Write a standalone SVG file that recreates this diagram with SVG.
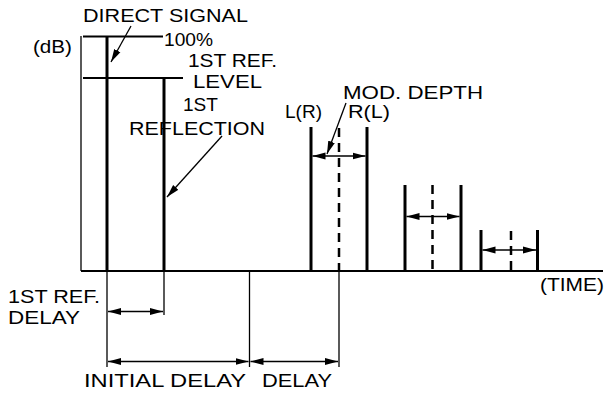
<svg xmlns="http://www.w3.org/2000/svg" width="606" height="393" viewBox="0 0 606 393">
<defs>
<style>
text{font-family:"Liberation Sans",Arial,Helvetica,sans-serif;font-size:19px;fill:#000}
.thick{stroke:#000;stroke-width:3;fill:none}
.med{stroke:#000;stroke-width:2;fill:none}
.thin{stroke:#000;stroke-width:1.3;fill:none}
.dash{stroke:#000;stroke-width:2.5;stroke-dasharray:9,6;fill:none}
.dim{stroke:#000;stroke-width:1.5;fill:none;marker-start:url(#ah);marker-end:url(#ah)}
.ptr{stroke:#000;stroke-width:1.3;fill:none;marker-end:url(#ah)}
</style>
<marker id="ah" markerUnits="userSpaceOnUse" markerWidth="14" markerHeight="8" refX="13" refY="4" orient="auto-start-reverse">
<path d="M0,0.5 L13,4 L0,7.5 z" fill="#000"/>
</marker>
</defs>
<rect width="606" height="393" fill="#fff"/>
<g id="axes">
<line class="thin" x1="81" y1="36" x2="81" y2="271"/>
<line class="med" x1="81" y1="271" x2="603" y2="271"/>
<line class="med" x1="83" y1="36.5" x2="163" y2="36.5"/>
<line class="med" x1="83" y1="78" x2="183" y2="78"/>
</g>
<g id="pulses">
<line class="thick" x1="107" y1="37" x2="107" y2="271"/>
<line class="thick" x1="164" y1="78" x2="164" y2="271"/>
<line class="thick" x1="311" y1="127" x2="311" y2="271"/>
<line class="thick" x1="367" y1="127" x2="367" y2="271"/>
<line class="dash" x1="339" y1="128" x2="339" y2="271"/>
<line class="thick" x1="405" y1="185" x2="405" y2="271"/>
<line class="thick" x1="461" y1="185" x2="461" y2="271"/>
<line class="dash" x1="432.5" y1="185" x2="432.5" y2="271"/>
<line class="thick" x1="481" y1="230" x2="481" y2="271"/>
<line class="thick" x1="537.5" y1="230" x2="537.5" y2="271"/>
<line class="dash" x1="511" y1="231" x2="511" y2="271"/>
</g>
<g id="connectors">
<line class="thin" x1="107" y1="271" x2="107" y2="367"/>
<line class="thin" x1="164" y1="271" x2="164" y2="315"/>
<line class="thin" x1="249.5" y1="271" x2="249.5" y2="367"/>
<line class="thin" x1="339" y1="271" x2="339" y2="367"/>
<line class="dim" x1="108" y1="311.5" x2="163" y2="311.5"/>
<line class="dim" x1="108" y1="361.5" x2="248.5" y2="361.5"/>
<line class="dim" x1="250.5" y1="361.5" x2="338" y2="361.5"/>
<line class="dim" x1="312.5" y1="156" x2="365.5" y2="156"/>
<line class="dim" x1="406.5" y1="216.5" x2="459.5" y2="216.5"/>
<line class="dim" x1="482.5" y1="250" x2="536" y2="250"/>
<line class="ptr" x1="131" y1="26" x2="111" y2="62"/>
<line class="ptr" x1="222" y1="136" x2="167" y2="197"/>
<line class="ptr" x1="346" y1="103" x2="327" y2="154"/>
</g>
<g id="labels">
<text x="83" y="21.5" textLength="165" lengthAdjust="spacingAndGlyphs">DIRECT SIGNAL</text>
<text x="33" y="53" textLength="39" lengthAdjust="spacingAndGlyphs">(dB)</text>
<text x="164" y="46" textLength="49" lengthAdjust="spacingAndGlyphs">100%</text>
<text x="188" y="66.5" textLength="89" lengthAdjust="spacingAndGlyphs">1ST REF.</text>
<text x="193" y="88" textLength="69" lengthAdjust="spacingAndGlyphs">LEVEL</text>
<text x="183" y="111" textLength="35" lengthAdjust="spacingAndGlyphs">1ST</text>
<text x="129" y="135" textLength="136" lengthAdjust="spacingAndGlyphs">REFLECTION</text>
<text x="343" y="99" textLength="140" lengthAdjust="spacingAndGlyphs">MOD. DEPTH</text>
<text x="285" y="118" textLength="37" lengthAdjust="spacingAndGlyphs">L(R)</text>
<text x="348" y="118" textLength="42" lengthAdjust="spacingAndGlyphs">R(L)</text>
<text x="540" y="291" textLength="64" lengthAdjust="spacingAndGlyphs">(TIME)</text>
<text x="8" y="303" textLength="92" lengthAdjust="spacingAndGlyphs">1ST REF.</text>
<text x="8" y="324" textLength="72" lengthAdjust="spacingAndGlyphs">DELAY</text>
<text x="84" y="387" textLength="162" lengthAdjust="spacingAndGlyphs">INITIAL DELAY</text>
<text x="262" y="387" textLength="70" lengthAdjust="spacingAndGlyphs">DELAY</text>
</g>
</svg>
